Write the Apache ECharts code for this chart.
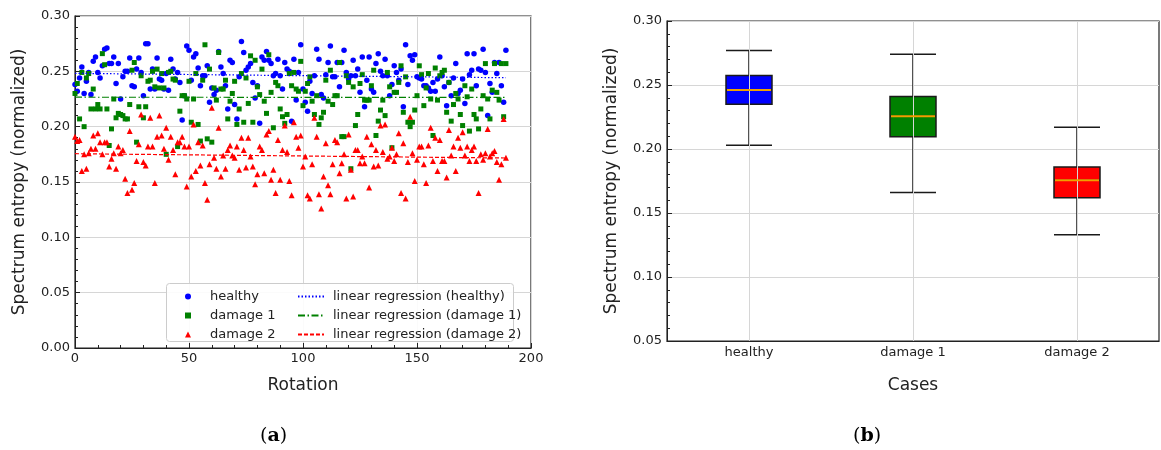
<!DOCTYPE html>
<html>
<head>
<meta charset="utf-8">
<script src="https://cdn.jsdelivr.net/npm/echarts@6/dist/echarts.min.js"></script>
<style>
html, body { margin: 0; padding: 0; background: #fff; }
#main { width: 1161px; height: 450px; }
</style>
</head>
<body>
<div id="main"></div>
<script>
// spectrum entropy per rotation (a)
var healthy = [0.238,0.232,0.244,0.254,0.230,0.241,0.249,0.229,0.259,0.263,0.249,0.244,0.255,0.270,0.271,0.257,0.257,0.263,0.239,0.257,
  0.225,0.245,0.250,0.250,0.262,0.237,0.236,0.252,0.262,0.249,0.228,0.275,0.275,0.234,0.252,0.234,0.262,0.243,0.242,0.234,
  0.248,0.233,0.261,0.252,0.243,0.249,0.240,0.206,0.228,0.273,0.269,0.242,0.263,0.266,0.253,0.237,0.246,0.246,0.255,0.222,
  0.235,0.229,0.233,0.268,0.254,0.248,0.237,0.216,0.260,0.258,0.220,0.207,0.245,0.277,0.267,0.251,0.254,0.257,0.240,0.226,
  0.237,0.203,0.263,0.260,0.268,0.260,0.257,0.246,0.248,0.261,0.246,0.234,0.258,0.252,0.250,0.205,0.261,0.224,0.249,0.274,
  0.234,0.222,0.214,0.241,0.230,0.246,0.270,0.261,0.229,0.226,0.247,0.258,0.273,0.245,0.245,0.258,0.236,0.258,0.269,0.249,
  0.243,0.246,0.260,0.246,0.252,0.231,0.263,0.218,0.242,0.263,0.234,0.231,0.257,0.266,0.250,0.246,0.261,0.246,0.228,0.238,
  0.255,0.249,0.242,0.252,0.218,0.274,0.238,0.264,0.260,0.265,0.245,0.244,0.243,0.237,0.237,0.235,0.232,0.240,0.232,0.243,
  0.263,0.246,0.236,0.219,0.240,0.228,0.244,0.257,0.230,0.233,0.243,0.221,0.266,0.247,0.251,0.266,0.237,0.252,0.251,0.270,
  0.249,0.210,0.239,0.231,0.258,0.248,0.258,0.237,0.222,0.269];
var damage1 = [0.230,0.239,0.207,0.249,0.200,0.244,0.248,0.216,0.234,0.216,0.220,0.216,0.266,0.256,0.216,0.183,0.198,0.225,0.208,0.212,
  0.211,0.210,0.207,0.207,0.220,0.251,0.258,0.186,0.218,0.246,0.208,0.218,0.241,0.242,0.250,0.236,0.252,0.235,0.248,0.235,
  0.175,0.249,0.250,0.243,0.242,0.182,0.214,0.228,0.228,0.225,0.241,0.204,0.225,0.248,0.202,0.187,0.242,0.274,0.189,0.252,
  0.186,0.235,0.224,0.267,0.234,0.234,0.242,0.207,0.223,0.230,0.241,0.202,0.216,0.248,0.204,0.244,0.221,0.264,0.204,0.260,
  0.236,0.229,0.252,0.223,0.212,0.265,0.231,0.199,0.240,0.237,0.216,0.209,0.203,0.211,0.248,0.237,0.249,0.234,0.232,0.259,
  0.219,0.232,0.239,0.245,0.223,0.211,0.228,0.202,0.208,0.213,0.242,0.223,0.251,0.220,0.228,0.228,0.258,0.191,0.191,0.246,
  0.240,0.162,0.236,0.201,0.211,0.239,0.247,0.224,0.224,0.224,0.237,0.251,0.192,0.205,0.215,0.224,0.210,0.249,0.236,0.181,
  0.231,0.231,0.240,0.255,0.213,0.245,0.204,0.200,0.204,0.215,0.228,0.255,0.247,0.219,0.235,0.248,0.225,0.192,0.253,0.224,
  0.246,0.249,0.251,0.213,0.240,0.205,0.220,0.230,0.225,0.211,0.201,0.237,0.227,0.196,0.234,0.211,0.207,0.198,0.216,0.228,
  0.257,0.225,0.207,0.233,0.257,0.231,0.224,0.257,0.209,0.257];
var damage2 = [0.191,0.187,0.188,0.160,0.175,0.162,0.176,0.180,0.192,0.180,0.194,0.186,0.175,0.186,0.186,0.164,0.171,0.176,0.162,0.182,
  0.176,0.179,0.153,0.140,0.196,0.143,0.149,0.169,0.184,0.211,0.168,0.165,0.182,0.208,0.182,0.149,0.191,0.210,0.192,0.180,
  0.199,0.170,0.191,0.179,0.157,0.186,0.186,0.191,0.182,0.146,0.182,0.155,0.202,0.160,0.186,0.165,0.183,0.149,0.134,0.166,
  0.217,0.172,0.162,0.199,0.155,0.174,0.162,0.179,0.183,0.174,0.172,0.182,0.161,0.190,0.179,0.163,0.190,0.173,0.164,0.148,
  0.157,0.182,0.179,0.158,0.193,0.196,0.152,0.161,0.140,0.188,0.152,0.179,0.201,0.177,0.151,0.138,0.204,0.191,0.181,0.192,
  0.164,0.173,0.138,0.135,0.166,0.208,0.191,0.139,0.126,0.155,0.185,0.147,0.139,0.166,0.188,0.186,0.158,0.167,0.175,0.135,
  0.193,0.161,0.137,0.179,0.179,0.167,0.173,0.167,0.191,0.145,0.184,0.164,0.179,0.165,0.201,0.177,0.202,0.171,0.173,0.181,
  0.169,0.175,0.194,0.140,0.185,0.135,0.168,0.209,0.176,0.151,0.170,0.182,0.182,0.166,0.149,0.183,0.199,0.169,0.190,0.160,
  0.188,0.169,0.169,0.154,0.197,0.174,0.182,0.160,0.190,0.181,0.195,0.174,0.182,0.169,0.179,0.182,0.169,0.140,0.175,0.170,
  0.176,0.198,0.173,0.176,0.178,0.168,0.152,0.166,0.207,0.172];

// box plot (b)
var cases = ['healthy', 'damage 1', 'damage 2'];
var boxMin = [0.203, 0.166, 0.133];
var boxQ1 = [0.235, 0.2095, 0.162];
var boxMed = [0.246, 0.2255, 0.1755];
var boxQ3 = [0.2575, 0.241, 0.186];
var boxMax = [0.277, 0.274, 0.217];
var boxColors = ['#0000ff', '#008000', '#ff0000'];

function points(arr) {
    return arr.map(function (v, i) { return [i, v]; });
}
// least squares fit, returns the two end points of the line
function regression(arr) {
    var n = arr.length, sx = 0, sy = 0, sxx = 0, sxy = 0;
    for (var i = 0; i < n; i++) {
        sx += i; sy += arr[i]; sxx += i * i; sxy += i * arr[i];
    }
    var b = (n * sxy - sx * sy) / (n * sxx - sx * sx);
    var a = (sy - b * sx) / n;
    return [[0, a], [n - 1, a + b * (n - 1)]];
}

var fontTick = { color: '#222', fontSize: 13, fontFamily: 'DejaVu Sans' };
var nameFont = { color: '#222', fontSize: 17, fontFamily: 'DejaVu Sans' };
var gridLine = { show: true, lineStyle: { color: '#d6d6d6', width: 1 } };
var legendFont = { color: '#222', fontSize: 13, fontFamily: 'DejaVu Sans' };

var chart = echarts.init(document.getElementById('main'));
chart.setOption({
    animation: false,
    grid: [
        { left: 75, right: 630, top: 16, bottom: 102, show: true, borderColor: '#222', borderWidth: 1.2 },
        { left: 667, right: 2, top: 21, bottom: 109, show: true, borderColor: '#222', borderWidth: 1.2 }
    ],
    legend: [
        {
            data: [
                { name: 'healthy', icon: 'circle' },
                { name: 'damage 1', icon: 'rect' },
                { name: 'damage 2', icon: 'triangle' }
            ],
            orient: 'vertical', left: 180, top: 285, itemWidth: 6, itemHeight: 6, itemGap: 6,
            textStyle: Object.assign({ padding: [0, 0, 0, 14] }, legendFont),
            z: 20
        },
        {
            data: ['linear regression (healthy)', 'linear regression (damage 1)', 'linear regression (damage 2)'],
            orient: 'vertical', left: 292, top: 285, itemWidth: 26, itemHeight: 6, itemGap: 6,
            itemStyle: { opacity: 0 },
            textStyle: Object.assign({ padding: [0, 0, 0, 4] }, legendFont),
            z: 20
        }
    ],
    xAxis: [
        {
            gridIndex: 0, type: 'value', min: 0, max: 200, interval: 50,
            name: 'Rotation', nameLocation: 'middle', nameGap: 29, nameTextStyle: nameFont,
            axisLine: { lineStyle: { color: '#222' } },
            axisTick: { inside: true, length: 5, lineStyle: { color: '#222' } },
            minorTick: { show: true, splitNumber: 5, length: 3, lineStyle: { color: '#222' } },
            axisLabel: Object.assign({ margin: 4 }, fontTick),
            splitLine: gridLine
        },
        {
            gridIndex: 1, type: 'category', data: cases,
            name: 'Cases', nameLocation: 'middle', nameGap: 36, nameTextStyle: nameFont,
            axisLine: { lineStyle: { color: '#222' } },
            axisTick: { inside: true, length: 5, alignWithLabel: true, lineStyle: { color: '#222' } },
            axisLabel: Object.assign({ margin: 5 }, fontTick),
            splitLine: { show: false }
        }
    ],
    yAxis: [
        {
            gridIndex: 0, type: 'value', min: 0, max: 0.3, interval: 0.05,
            name: 'Spectrum entropy (normalized)', nameLocation: 'middle', nameGap: 47, nameTextStyle: nameFont,
            axisLine: { show: true, lineStyle: { color: '#222' } },
            axisTick: { show: true, inside: true, length: 5, lineStyle: { color: '#222' } },
            minorTick: { show: true, splitNumber: 5, length: 3, lineStyle: { color: '#222' } },
            axisLabel: Object.assign({ margin: 5, formatter: function (v) { return v.toFixed(2); } }, fontTick),
            splitLine: gridLine
        },
        {
            gridIndex: 1, type: 'value', min: 0.05, max: 0.3, interval: 0.05,
            name: 'Spectrum entropy (normalized)', nameLocation: 'middle', nameGap: 47, nameTextStyle: nameFont,
            axisLine: { show: true, lineStyle: { color: '#222' } },
            axisTick: { show: true, inside: true, length: 5, lineStyle: { color: '#222' } },
            minorTick: { show: true, splitNumber: 5, length: 3, lineStyle: { color: '#222' } },
            axisLabel: Object.assign({ margin: 5, formatter: function (v) { return v.toFixed(2); } }, fontTick),
            splitLine: gridLine
        }
    ],
    graphic: [
        {
            type: 'rect', left: 166, top: 283, z: 10,
            shape: { width: 347, height: 58, r: 3 },
            style: { fill: 'rgba(255,255,255,0.9)', stroke: '#cccccc', lineWidth: 1 }
        },
        {
            type: 'text', left: 260, top: 427,
            style: {
                text: '{p|(}{b|a}{p|)}',
                rich: {
                    p: { fontSize: 19, fontFamily: 'DejaVu Serif', fill: '#000' },
                    b: { fontSize: 19, fontFamily: 'DejaVu Serif', fontWeight: 'bold', fill: '#000' }
                }
            }
        },
        {
            type: 'text', left: 853, top: 427,
            style: {
                text: '{p|(}{b|b}{p|)}',
                rich: {
                    p: { fontSize: 19, fontFamily: 'DejaVu Serif', fill: '#000' },
                    b: { fontSize: 19, fontFamily: 'DejaVu Serif', fontWeight: 'bold', fill: '#000' }
                }
            }
        }
    ],
    series: [
        {
            name: 'healthy', type: 'scatter', xAxisIndex: 0, yAxisIndex: 0,
            symbol: 'circle', symbolSize: 5.5, itemStyle: { color: '#0000ff', opacity: 1 },
            data: points(healthy)
        },
        {
            name: 'damage 1', type: 'scatter', xAxisIndex: 0, yAxisIndex: 0,
            symbol: 'rect', symbolSize: 5, itemStyle: { color: '#008000', opacity: 1 },
            data: points(damage1)
        },
        {
            name: 'damage 2', type: 'scatter', xAxisIndex: 0, yAxisIndex: 0,
            symbol: 'triangle', symbolSize: 6, itemStyle: { color: '#ff0000', opacity: 1 },
            data: points(damage2)
        },
        {
            name: 'linear regression (healthy)', type: 'line', xAxisIndex: 0, yAxisIndex: 0,
            symbol: 'none', showSymbol: false, z: 5,
            lineStyle: { color: '#0000ff', width: 1.2, type: [1.5, 2] },
            itemStyle: { color: '#0000ff' },
            data: regression(healthy)
        },
        {
            name: 'linear regression (damage 1)', type: 'line', xAxisIndex: 0, yAxisIndex: 0,
            symbol: 'none', showSymbol: false, z: 5,
            lineStyle: { color: '#008000', width: 1.2, type: [7, 2.5, 1.5, 2.5] },
            itemStyle: { color: '#008000' },
            data: regression(damage1)
        },
        {
            name: 'linear regression (damage 2)', type: 'line', xAxisIndex: 0, yAxisIndex: 0,
            symbol: 'none', showSymbol: false, z: 5,
            lineStyle: { color: '#ff0000', width: 1.2, type: [4, 2] },
            itemStyle: { color: '#ff0000' },
            data: regression(damage2)
        },
        {
            // vertical grid lines at the category centres
            type: 'line', xAxisIndex: 1, yAxisIndex: 1, data: [], silent: true, z: 0,
            markLine: {
                symbol: 'none', silent: true, label: { show: false },
                lineStyle: { color: '#d6d6d6', width: 1, type: 'solid' },
                data: cases.map(function (c) { return { xAxis: c }; })
            }
        },
        {
            type: 'boxplot', xAxisIndex: 1, yAxisIndex: 1, boxWidth: [46, 46],
            data: cases.map(function (c, i) {
                return {
                    value: [boxMin[i], boxQ1[i], boxMed[i], boxQ3[i], boxMax[i]],
                    itemStyle: { color: boxColors[i], borderColor: '#1a1a1a', borderWidth: 1.5 }
                };
            })
        },
        {
            // orange median bars
            type: 'scatter', xAxisIndex: 1, yAxisIndex: 1, z: 10,
            symbol: 'rect', symbolSize: [44, 2],
            itemStyle: { color: '#f0a000', opacity: 1 },
            data: cases.map(function (c, i) { return [c, boxMed[i]]; })
        }
    ]
});
</script>
</body>
</html>
